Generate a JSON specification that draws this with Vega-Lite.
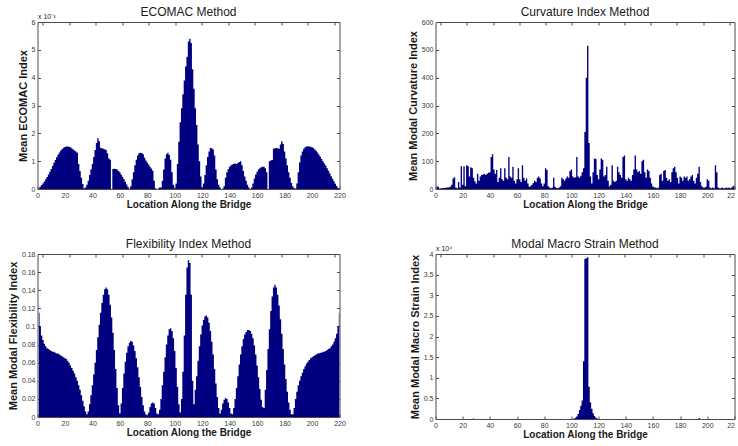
{
  "$schema": "https://vega.github.io/schema/vega-lite/v6.json",
  "background": "white",
  "padding": {"left": 6.5, "top": 5, "right": 0, "bottom": 0},
  "config": {
    "font": "Liberation Sans",
    "view": {"stroke": "#4d4d4d", "strokeWidth": 1},
    "axis": {"domain": false, "grid": false, "tickSize": -3, "tickColor": "#4d4d4d", "labelFontSize": 7, "labelColor": "#3a3a3a", "labelPadding": 5.5, "titleFontWeight": "bold", "titleColor": "#1a1a1a", "labelFlush": false},
    "axisX": {"titleFontSize": 10, "titlePadding": 0.5},
    "axisY": {"titleFontSize": 11, "titlePadding": 3},
    "title": {"fontSize": 12, "fontWeight": "normal", "color": "#1a1a1a"}
  },
  "datasets": {
    "ecomac": [
      {"x":1,"y":0.03},{"x":2,"y":0.08},{"x":3,"y":0.14},{"x":4,"y":0.2},{"x":5,"y":0.27},{"x":6,"y":0.35},{"x":7,"y":0.43},{"x":8,"y":0.52},{"x":9,"y":0.62},{"x":10,"y":0.72},
      {"x":11,"y":0.83},{"x":12,"y":0.94},{"x":13,"y":1.04},{"x":14,"y":1.14},{"x":15,"y":1.23},{"x":16,"y":1.31},{"x":17,"y":1.38},{"x":18,"y":1.44},{"x":19,"y":1.48},{"x":20,"y":1.51},
      {"x":21,"y":1.53},{"x":22,"y":1.53},{"x":23,"y":1.52},{"x":24,"y":1.5},{"x":25,"y":1.46},{"x":26,"y":1.42},{"x":27,"y":1.38},{"x":28,"y":1.35},{"x":29,"y":1.3},{"x":30,"y":0.9},
      {"x":31,"y":0.65},{"x":32,"y":0.4},{"x":33,"y":0.18},{"x":34,"y":0.03},{"x":35,"y":0.05},{"x":36,"y":0.15},{"x":37,"y":0.3},{"x":38,"y":0.5},{"x":39,"y":0.7},{"x":40,"y":0.9},
      {"x":41,"y":1.15},{"x":42,"y":1.4},{"x":43,"y":1.65},{"x":44,"y":1.82},{"x":45,"y":1.72},{"x":46,"y":1.48},{"x":47,"y":1.46},{"x":48,"y":1.45},{"x":49,"y":1.43},{"x":50,"y":1.4},
      {"x":51,"y":1.28},{"x":52,"y":1.1},{"x":53,"y":1.05},{"x":54,"y":0},{"x":55,"y":0.72},{"x":56,"y":0.73},{"x":57,"y":0.72},{"x":58,"y":0.7},{"x":59,"y":0.65},{"x":60,"y":0.6},
      {"x":61,"y":0.52},{"x":62,"y":0.44},{"x":63,"y":0.36},{"x":64,"y":0.26},{"x":65,"y":0.16},{"x":66,"y":0.07},{"x":67,"y":0.01},{"x":68,"y":0.1},{"x":69,"y":0.35},{"x":70,"y":0.6},
      {"x":71,"y":0.85},{"x":72,"y":1.05},{"x":73,"y":1.2},{"x":74,"y":1.28},{"x":75,"y":1.3},{"x":76,"y":1.29},{"x":77,"y":1.25},{"x":78,"y":1.12},{"x":79,"y":1.02},{"x":80,"y":0.95},
      {"x":81,"y":0.88},{"x":82,"y":0.8},{"x":83,"y":0.74},{"x":84,"y":0.66},{"x":85,"y":0.3},{"x":86,"y":0.03},{"x":87,"y":0},{"x":88,"y":0.02},{"x":89,"y":0.05},{"x":90,"y":0.05},
      {"x":91,"y":0.3},{"x":92,"y":0.7},{"x":93,"y":1.1},{"x":94,"y":1.25},{"x":95,"y":1.3},{"x":96,"y":1.22},{"x":97,"y":1.05},{"x":98,"y":0.6},{"x":99,"y":0.15},{"x":100,"y":0.02},
      {"x":101,"y":0.2},{"x":102,"y":0.9},{"x":103,"y":1.7},{"x":104,"y":2.4},{"x":105,"y":2.9},{"x":106,"y":3.4},{"x":107,"y":3.9},{"x":108,"y":4.4},{"x":109,"y":4.75},{"x":110,"y":5.3},
      {"x":111,"y":5.4},{"x":112,"y":5.25},{"x":113,"y":4.3},{"x":114,"y":3.6},{"x":115,"y":2.9},{"x":116,"y":2.3},{"x":117,"y":1.6},{"x":118,"y":1.0},{"x":119,"y":0.45},{"x":120,"y":0.05},
      {"x":121,"y":0.2},{"x":122,"y":0.5},{"x":123,"y":0.85},{"x":124,"y":1.15},{"x":125,"y":1.35},{"x":126,"y":1.47},{"x":127,"y":1.46},{"x":128,"y":1.42},{"x":129,"y":1.2},{"x":130,"y":0.7},
      {"x":131,"y":0.35},{"x":132,"y":0.15},{"x":133,"y":0.05},{"x":134,"y":0},{"x":135,"y":0.02},{"x":136,"y":0.1},{"x":137,"y":0.4},{"x":138,"y":0.6},{"x":139,"y":0.72},{"x":140,"y":0.8},
      {"x":141,"y":0.85},{"x":142,"y":0.88},{"x":143,"y":0.9},{"x":144,"y":0.92},{"x":145,"y":0.9},{"x":146,"y":0.93},{"x":147,"y":0.97},{"x":148,"y":1.0},{"x":149,"y":0.85},{"x":150,"y":0.65},
      {"x":151,"y":0.45},{"x":152,"y":0.3},{"x":153,"y":0.15},{"x":154,"y":0.05},{"x":155,"y":0},{"x":156,"y":0.05},{"x":157,"y":0.2},{"x":158,"y":0.38},{"x":159,"y":0.52},{"x":160,"y":0.62},
      {"x":161,"y":0.7},{"x":162,"y":0.75},{"x":163,"y":0.78},{"x":164,"y":0.8},{"x":165,"y":0.8},{"x":166,"y":0.75},{"x":167,"y":0.6},{"x":168,"y":0},{"x":169,"y":1.0},{"x":170,"y":1.02},
      {"x":171,"y":1.04},{"x":172,"y":1.45},{"x":173,"y":1.46},{"x":174,"y":1.47},{"x":175,"y":1.46},{"x":176,"y":1.45},{"x":177,"y":1.6},{"x":178,"y":1.72},{"x":179,"y":1.62},{"x":180,"y":1.35},
      {"x":181,"y":1.1},{"x":182,"y":0.85},{"x":183,"y":0.6},{"x":184,"y":0.4},{"x":185,"y":0.22},{"x":186,"y":0.1},{"x":187,"y":0.03},{"x":188,"y":0.02},{"x":189,"y":0.2},{"x":190,"y":0.6},
      {"x":191,"y":0.95},{"x":192,"y":1.2},{"x":193,"y":1.35},{"x":194,"y":1.45},{"x":195,"y":1.5},{"x":196,"y":1.53},{"x":197,"y":1.54},{"x":198,"y":1.53},{"x":199,"y":1.52},{"x":200,"y":1.5},
      {"x":201,"y":1.47},{"x":202,"y":1.42},{"x":203,"y":1.37},{"x":204,"y":1.31},{"x":205,"y":1.24},{"x":206,"y":1.16},{"x":207,"y":1.08},{"x":208,"y":1.0},{"x":209,"y":0.92},{"x":210,"y":0.84},
      {"x":211,"y":0.75},{"x":212,"y":0.66},{"x":213,"y":0.56},{"x":214,"y":0.46},{"x":215,"y":0.37},{"x":216,"y":0.28},{"x":217,"y":0.19},{"x":218,"y":0.11},{"x":219,"y":0.04},{"x":220,"y":0}
    ],
    "curv": [
      {"x":1,"y":10},{"x":2,"y":8},{"x":3,"y":2},{"x":4,"y":3},{"x":5,"y":3},{"x":6,"y":4},{"x":7,"y":4},{"x":8,"y":5},{"x":9,"y":5},{"x":10,"y":6},
      {"x":11,"y":8},{"x":12,"y":15},{"x":13,"y":38},{"x":14,"y":42},{"x":15,"y":5},{"x":16,"y":3},{"x":17,"y":25},{"x":18,"y":5},{"x":19,"y":82},{"x":20,"y":15},
      {"x":21,"y":82},{"x":22,"y":10},{"x":23,"y":85},{"x":24,"y":82},{"x":25,"y":45},{"x":26,"y":78},{"x":27,"y":75},{"x":28,"y":40},{"x":29,"y":28},{"x":30,"y":20},
      {"x":31,"y":55},{"x":32,"y":30},{"x":33,"y":45},{"x":34,"y":50},{"x":35,"y":52},{"x":36,"y":55},{"x":37,"y":50},{"x":38,"y":55},{"x":39,"y":58},{"x":40,"y":60},
      {"x":41,"y":115},{"x":42,"y":125},{"x":43,"y":70},{"x":44,"y":55},{"x":45,"y":68},{"x":46,"y":25},{"x":47,"y":40},{"x":48,"y":75},{"x":49,"y":35},{"x":50,"y":30},
      {"x":51,"y":75},{"x":52,"y":40},{"x":53,"y":35},{"x":54,"y":115},{"x":55,"y":45},{"x":56,"y":40},{"x":57,"y":80},{"x":58,"y":30},{"x":59,"y":20},{"x":60,"y":35},
      {"x":61,"y":75},{"x":62,"y":35},{"x":63,"y":25},{"x":64,"y":85},{"x":65,"y":40},{"x":66,"y":30},{"x":67,"y":38},{"x":68,"y":20},{"x":69,"y":8},{"x":70,"y":10},
      {"x":71,"y":15},{"x":72,"y":22},{"x":73,"y":30},{"x":74,"y":25},{"x":75,"y":40},{"x":76,"y":45},{"x":77,"y":38},{"x":78,"y":20},{"x":79,"y":10},{"x":80,"y":20},
      {"x":81,"y":75},{"x":82,"y":68},{"x":83,"y":10},{"x":84,"y":5},{"x":85,"y":3},{"x":86,"y":5},{"x":87,"y":40},{"x":88,"y":8},{"x":89,"y":4},{"x":90,"y":3},
      {"x":91,"y":5},{"x":92,"y":10},{"x":93,"y":40},{"x":94,"y":35},{"x":95,"y":30},{"x":96,"y":38},{"x":97,"y":45},{"x":98,"y":40},{"x":99,"y":65},{"x":100,"y":70},
      {"x":101,"y":45},{"x":102,"y":40},{"x":103,"y":42},{"x":104,"y":115},{"x":105,"y":45},{"x":106,"y":40},{"x":107,"y":48},{"x":108,"y":60},{"x":109,"y":75},{"x":110,"y":205},
      {"x":111,"y":400},{"x":112,"y":515},{"x":113,"y":165},{"x":114,"y":45},{"x":115,"y":20},{"x":116,"y":60},{"x":117,"y":110},{"x":118,"y":108},{"x":119,"y":50},{"x":120,"y":35},
      {"x":121,"y":70},{"x":122,"y":110},{"x":123,"y":105},{"x":124,"y":45},{"x":125,"y":50},{"x":126,"y":80},{"x":127,"y":30},{"x":128,"y":10},{"x":129,"y":15},{"x":130,"y":85},
      {"x":131,"y":30},{"x":132,"y":25},{"x":133,"y":30},{"x":134,"y":80},{"x":135,"y":60},{"x":136,"y":50},{"x":137,"y":40},{"x":138,"y":115},{"x":139,"y":120},{"x":140,"y":35},
      {"x":141,"y":30},{"x":142,"y":40},{"x":143,"y":35},{"x":144,"y":30},{"x":145,"y":50},{"x":146,"y":70},{"x":147,"y":120},{"x":148,"y":70},{"x":149,"y":60},{"x":150,"y":65},
      {"x":151,"y":55},{"x":152,"y":100},{"x":153,"y":105},{"x":154,"y":60},{"x":155,"y":40},{"x":156,"y":70},{"x":157,"y":65},{"x":158,"y":40},{"x":159,"y":20},{"x":160,"y":8},
      {"x":161,"y":5},{"x":162,"y":5},{"x":163,"y":3},{"x":164,"y":5},{"x":165,"y":50},{"x":166,"y":55},{"x":167,"y":30},{"x":168,"y":65},{"x":169,"y":68},{"x":170,"y":40},
      {"x":171,"y":30},{"x":172,"y":35},{"x":173,"y":25},{"x":174,"y":60},{"x":175,"y":75},{"x":176,"y":80},{"x":177,"y":60},{"x":178,"y":40},{"x":179,"y":20},{"x":180,"y":45},
      {"x":181,"y":40},{"x":182,"y":30},{"x":183,"y":45},{"x":184,"y":40},{"x":185,"y":45},{"x":186,"y":30},{"x":187,"y":35},{"x":188,"y":45},{"x":189,"y":50},{"x":190,"y":30},
      {"x":191,"y":20},{"x":192,"y":40},{"x":193,"y":55},{"x":194,"y":80},{"x":195,"y":25},{"x":196,"y":10},{"x":197,"y":5},{"x":198,"y":5},{"x":199,"y":8},{"x":200,"y":35},
      {"x":201,"y":30},{"x":202,"y":5},{"x":203,"y":3},{"x":204,"y":5},{"x":205,"y":3},{"x":206,"y":85},{"x":207,"y":60},{"x":208,"y":5},{"x":209,"y":3},{"x":210,"y":3},
      {"x":211,"y":5},{"x":212,"y":3},{"x":213,"y":3},{"x":214,"y":5},{"x":215,"y":4},{"x":216,"y":5},{"x":217,"y":3},{"x":218,"y":5},{"x":219,"y":10},{"x":220,"y":15}
    ],
    "flex": [
      {"x":1,"y":0.115},{"x":2,"y":0.1},{"x":3,"y":0.09},{"x":4,"y":0.085},{"x":5,"y":0.081},{"x":6,"y":0.078},{"x":7,"y":0.076},{"x":8,"y":0.075},{"x":9,"y":0.074},{"x":10,"y":0.073},
      {"x":11,"y":0.072},{"x":12,"y":0.072},{"x":13,"y":0.071},{"x":14,"y":0.07},{"x":15,"y":0.07},{"x":16,"y":0.069},{"x":17,"y":0.068},{"x":18,"y":0.067},{"x":19,"y":0.066},{"x":20,"y":0.065},
      {"x":21,"y":0.064},{"x":22,"y":0.062},{"x":23,"y":0.06},{"x":24,"y":0.057},{"x":25,"y":0.054},{"x":26,"y":0.051},{"x":27,"y":0.048},{"x":28,"y":0.044},{"x":29,"y":0.04},{"x":30,"y":0.035},
      {"x":31,"y":0.03},{"x":32,"y":0.024},{"x":33,"y":0.018},{"x":34,"y":0.012},{"x":35,"y":0.006},{"x":36,"y":0.003},{"x":37,"y":0.006},{"x":38,"y":0.014},{"x":39,"y":0.024},{"x":40,"y":0.035},
      {"x":41,"y":0.047},{"x":42,"y":0.06},{"x":43,"y":0.074},{"x":44,"y":0.088},{"x":45,"y":0.102},{"x":46,"y":0.115},{"x":47,"y":0.126},{"x":48,"y":0.135},{"x":49,"y":0.141},{"x":50,"y":0.143},
      {"x":51,"y":0.141},{"x":52,"y":0.135},{"x":53,"y":0.124},{"x":54,"y":0.11},{"x":55,"y":0.093},{"x":56,"y":0.074},{"x":57,"y":0.053},{"x":58,"y":0.032},{"x":59,"y":0.013},{"x":60,"y":0.004},
      {"x":61,"y":0.015},{"x":62,"y":0.032},{"x":63,"y":0.048},{"x":64,"y":0.061},{"x":65,"y":0.071},{"x":66,"y":0.078},{"x":67,"y":0.082},{"x":68,"y":0.084},{"x":69,"y":0.083},{"x":70,"y":0.079},
      {"x":71,"y":0.073},{"x":72,"y":0.065},{"x":73,"y":0.055},{"x":74,"y":0.044},{"x":75,"y":0.033},{"x":76,"y":0.022},{"x":77,"y":0.013},{"x":78,"y":0.006},{"x":79,"y":0.003},{"x":80,"y":0.002},
      {"x":81,"y":0.005},{"x":82,"y":0.011},{"x":83,"y":0.015},{"x":84,"y":0.016},{"x":85,"y":0.015},{"x":86,"y":0.01},{"x":87,"y":0.004},{"x":88,"y":0.003},{"x":89,"y":0.008},{"x":90,"y":0.02},
      {"x":91,"y":0.035},{"x":92,"y":0.05},{"x":93,"y":0.066},{"x":94,"y":0.08},{"x":95,"y":0.09},{"x":96,"y":0.097},{"x":97,"y":0.098},{"x":98,"y":0.095},{"x":99,"y":0.087},{"x":100,"y":0.073},
      {"x":101,"y":0.054},{"x":102,"y":0.033},{"x":103,"y":0.014},{"x":104,"y":0.005},{"x":105,"y":0.02},{"x":106,"y":0.05},{"x":107,"y":0.09},{"x":108,"y":0.135},{"x":109,"y":0.165},{"x":110,"y":0.173},
      {"x":111,"y":0.17},{"x":112,"y":0.135},{"x":113,"y":0.04},{"x":114,"y":0.014},{"x":115,"y":0.03},{"x":116,"y":0.045},{"x":117,"y":0.062},{"x":118,"y":0.078},{"x":119,"y":0.091},{"x":120,"y":0.101},
      {"x":121,"y":0.107},{"x":122,"y":0.111},{"x":123,"y":0.112},{"x":124,"y":0.11},{"x":125,"y":0.104},{"x":126,"y":0.095},{"x":127,"y":0.083},{"x":128,"y":0.069},{"x":129,"y":0.053},{"x":130,"y":0.037},
      {"x":131,"y":0.022},{"x":132,"y":0.01},{"x":133,"y":0.004},{"x":134,"y":0.008},{"x":135,"y":0.015},{"x":136,"y":0.019},{"x":137,"y":0.021},{"x":138,"y":0.02},{"x":139,"y":0.016},{"x":140,"y":0.01},
      {"x":141,"y":0.004},{"x":142,"y":0.003},{"x":143,"y":0.01},{"x":144,"y":0.02},{"x":145,"y":0.032},{"x":146,"y":0.045},{"x":147,"y":0.058},{"x":148,"y":0.069},{"x":149,"y":0.078},{"x":150,"y":0.086},
      {"x":151,"y":0.091},{"x":152,"y":0.094},{"x":153,"y":0.096},{"x":154,"y":0.096},{"x":155,"y":0.095},{"x":156,"y":0.092},{"x":157,"y":0.087},{"x":158,"y":0.079},{"x":159,"y":0.069},{"x":160,"y":0.057},
      {"x":161,"y":0.044},{"x":162,"y":0.031},{"x":163,"y":0.019},{"x":164,"y":0.011},{"x":165,"y":0.01},{"x":166,"y":0.03},{"x":167,"y":0.052},{"x":168,"y":0.075},{"x":169,"y":0.097},{"x":170,"y":0.117},
      {"x":171,"y":0.133},{"x":172,"y":0.143},{"x":173,"y":0.146},{"x":174,"y":0.143},{"x":175,"y":0.135},{"x":176,"y":0.123},{"x":177,"y":0.108},{"x":178,"y":0.092},{"x":179,"y":0.075},{"x":180,"y":0.058},
      {"x":181,"y":0.042},{"x":182,"y":0.028},{"x":183,"y":0.016},{"x":184,"y":0.008},{"x":185,"y":0.003},{"x":186,"y":0.003},{"x":187,"y":0.01},{"x":188,"y":0.02},{"x":189,"y":0.028},{"x":190,"y":0.035},
      {"x":191,"y":0.04},{"x":192,"y":0.045},{"x":193,"y":0.049},{"x":194,"y":0.053},{"x":195,"y":0.056},{"x":196,"y":0.059},{"x":197,"y":0.061},{"x":198,"y":0.063},{"x":199,"y":0.065},{"x":200,"y":0.066},
      {"x":201,"y":0.067},{"x":202,"y":0.068},{"x":203,"y":0.069},{"x":204,"y":0.07},{"x":205,"y":0.07},{"x":206,"y":0.071},{"x":207,"y":0.071},{"x":208,"y":0.072},{"x":209,"y":0.072},{"x":210,"y":0.073},
      {"x":211,"y":0.074},{"x":212,"y":0.075},{"x":213,"y":0.076},{"x":214,"y":0.078},{"x":215,"y":0.08},{"x":216,"y":0.083},{"x":217,"y":0.087},{"x":218,"y":0.092},{"x":219,"y":0.1},{"x":220,"y":0.115}
    ],
    "strain": [
      {"x":1,"y":0},{"x":27,"y":0},{"x":28,"y":0.015},{"x":29,"y":0},{"x":101,"y":0},{"x":102,"y":0.01},{"x":103,"y":0.03},{"x":104,"y":0.06},{"x":105,"y":0.12},{"x":106,"y":0.22},{"x":107,"y":0.32},{"x":108,"y":0.45},{"x":109,"y":1.4},{"x":110,"y":3.88},
      {"x":111,"y":3.9},{"x":112,"y":3.92},{"x":113,"y":0.78},{"x":114,"y":0.4},{"x":115,"y":0.25},{"x":116,"y":0.14},{"x":117,"y":0.07},{"x":118,"y":0.03},{"x":119,"y":0.01},{"x":120,"y":0},{"x":193,"y":0},{"x":194,"y":0.025},{"x":195,"y":0},{"x":220,"y":0}
    ]
  },
  "columns": 2,
  "spacing": {"row": 65, "column": 96},
  "bounds": "flush",
  "concat": [
    {
      "width": 302, "height": 167,
      "title": {"text": "ECOMAC Method", "offset": -6},
      "data": {"name": "ecomac"},
      "layer": [
        {"mark": {"type": "area", "interpolate": "step", "color": "#000080", "clip": true},
         "encoding": {
           "x": {"field": "x", "type": "quantitative", "scale": {"domain": [0, 220], "nice": false}, "axis": {"values": [0,20,40,60,80,100,120,140,160,180,200,220], "title": "Location Along the Bridge"}},
           "y": {"field": "y", "type": "quantitative", "scale": {"domain": [0, 6], "nice": false}, "axis": {"values": [0,1,2,3,4,5,6], "title": "Mean ECOMAC Index"}}
         }},
        {"mark": {"type": "bar", "opacity": 0, "width": 1, "clip": true},
         "encoding": {
           "x": {"field": "x", "type": "quantitative", "scale": {"domain": [0, 220], "nice": false}, "axis": {"orient": "top", "values": [0,20,40,60,80,100,120,140,160,180,200,220], "labels": false, "title": "x 10⁻³", "titleFontSize": 7, "titleFontWeight": "normal", "titleAnchor": "start", "titleAlign": "left", "titlePadding": 2}},
           "y": {"field": "y", "type": "quantitative", "scale": {"domain": [0, 6], "nice": false}, "axis": {"orient": "right", "values": [0,1,2,3,4,5,6], "labels": false, "title": null}}
         }}
      ],
      "resolve": {"scale": {"x": "independent", "y": "independent"}}
    },
    {
      "width": 299, "height": 167,
      "title": {"text": "Curvature Index Method", "offset": -1},
      "data": {"name": "curv"},
      "layer": [
        {"mark": {"type": "area", "interpolate": "step", "color": "#000080", "clip": true},
         "encoding": {
           "x": {"field": "x", "type": "quantitative", "scale": {"domain": [0, 220], "nice": false}, "axis": {"values": [0,20,40,60,80,100,120,140,160,180,200,220], "title": "Location Along the Bridge", "labelExpr": "datum.value == 220 ? '22' : datum.label", "labelAlign": {"condition": {"test": "datum.value == 220", "value": "right"}, "value": "center"}}},
           "y": {"field": "y", "type": "quantitative", "scale": {"domain": [0, 600], "nice": false}, "axis": {"values": [0,100,200,300,400,500,600], "title": "Mean Modal Curvature Index"}}
         }},
        {"mark": {"type": "bar", "opacity": 0, "width": 1, "clip": true},
         "encoding": {
           "x": {"field": "x", "type": "quantitative", "scale": {"domain": [0, 220], "nice": false}, "axis": {"orient": "top", "values": [0,20,40,60,80,100,120,140,160,180,200,220], "labels": false, "title": null}},
           "y": {"field": "y", "type": "quantitative", "scale": {"domain": [0, 600], "nice": false}, "axis": {"orient": "right", "values": [0,100,200,300,400,500,600], "labels": false, "title": null}}
         }}
      ],
      "resolve": {"scale": {"x": "independent", "y": "independent"}}
    },
    {
      "width": 302, "height": 163,
      "title": {"text": "Flexibility Index Method", "offset": -1},
      "data": {"name": "flex"},
      "layer": [
        {"mark": {"type": "area", "interpolate": "step", "color": "#000080", "clip": true},
         "encoding": {
           "x": {"field": "x", "type": "quantitative", "scale": {"domain": [0, 220], "nice": false}, "axis": {"values": [0,20,40,60,80,100,120,140,160,180,200,220], "title": "Location Along the Bridge"}},
           "y": {"field": "y", "type": "quantitative", "scale": {"domain": [0, 0.18], "nice": false}, "axis": {"values": [0,0.02,0.04,0.06,0.08,0.1,0.12,0.14,0.16,0.18], "format": "~g", "title": "Mean Modal Flexibility Index"}}
         }},
        {"mark": {"type": "bar", "opacity": 0, "width": 1, "clip": true},
         "encoding": {
           "x": {"field": "x", "type": "quantitative", "scale": {"domain": [0, 220], "nice": false}, "axis": {"orient": "top", "values": [0,20,40,60,80,100,120,140,160,180,200,220], "labels": false, "title": null}},
           "y": {"field": "y", "type": "quantitative", "scale": {"domain": [0, 0.18], "nice": false}, "axis": {"orient": "right", "values": [0,0.02,0.04,0.06,0.08,0.1,0.12,0.14,0.16,0.18], "labels": false, "title": null}}
         }}
      ],
      "resolve": {"scale": {"x": "independent", "y": "independent"}}
    },
    {
      "width": 299, "height": 165,
      "title": {"text": "Modal Macro Strain Method", "offset": -6},
      "data": {"name": "strain"},
      "layer": [
        {"mark": {"type": "area", "interpolate": "step", "color": "#000080", "clip": true},
         "encoding": {
           "x": {"field": "x", "type": "quantitative", "scale": {"domain": [0, 220], "nice": false}, "axis": {"values": [0,20,40,60,80,100,120,140,160,180,200,220], "title": "Location Along the Bridge", "labelExpr": "datum.value == 220 ? '22' : datum.label", "labelAlign": {"condition": {"test": "datum.value == 220", "value": "right"}, "value": "center"}}},
           "y": {"field": "y", "type": "quantitative", "scale": {"domain": [0, 4], "nice": false}, "axis": {"values": [0,0.5,1,1.5,2,2.5,3,3.5,4], "format": "~g", "title": "Mean Modal Macro Strain Index"}}
         }},
        {"mark": {"type": "bar", "opacity": 0, "width": 1, "clip": true},
         "encoding": {
           "x": {"field": "x", "type": "quantitative", "scale": {"domain": [0, 220], "nice": false}, "axis": {"orient": "top", "values": [0,20,40,60,80,100,120,140,160,180,200,220], "labels": false, "title": "x 10⁴", "titleFontSize": 7, "titleFontWeight": "normal", "titleAnchor": "start", "titleAlign": "left", "titlePadding": 2}},
           "y": {"field": "y", "type": "quantitative", "scale": {"domain": [0, 4], "nice": false}, "axis": {"orient": "right", "values": [0,0.5,1,1.5,2,2.5,3,3.5,4], "labels": false, "title": null}}
         }}
      ],
      "resolve": {"scale": {"x": "independent", "y": "independent"}}
    }
  ]
}
